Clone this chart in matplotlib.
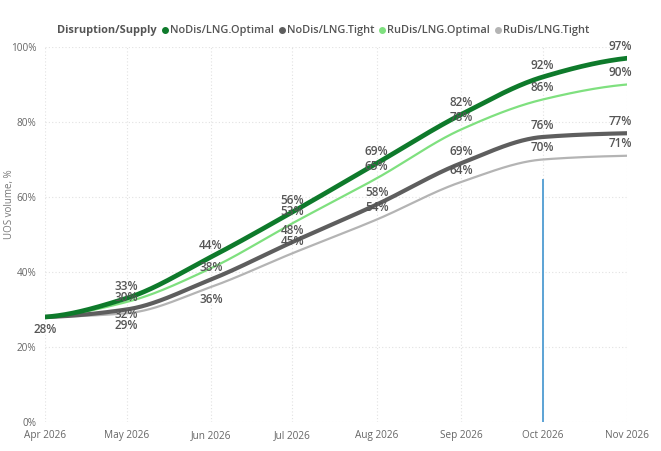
import numpy as np
import matplotlib
matplotlib.use("Agg")
import matplotlib.pyplot as plt
import matplotlib.dates as mdates
from datetime import datetime

plt.rcParams['font.family'] = ['Open Sans', 'DejaVu Sans']

months = ["2026-04-01", "2026-05-01", "2026-06-01", "2026-07-01",
          "2026-08-01", "2026-09-01", "2026-10-01", "2026-11-01"]
tick_labels = ["Apr 2026", "May 2026", "Jun 2026", "Jul 2026",
               "Aug 2026", "Sep 2026", "Oct 2026", "Nov 2026"]
series_names = ["NoDis/LNG.Optimal", "NoDis/LNG.Tight",
                "RuDis/LNG.Optimal", "RuDis/LNG.Tight"]
nodis_optimal = [28, 33, 44, 56, 69, 82, 92, 97]
nodis_tight = [28, 30, 38, 48, 58, 69, 76, 77]
rudis_optimal = [28, 32, 41, 53, 65, 78, 86, 90]
rudis_tight = [28, 29, 36, 45, 54, 64, 70, 71]
marker_date = "2026-10-01"
marker_top = 64.5

colors = ["#0E7A2B", "#5E5E5E", "#7FE07F", "#B4B4B4"]
widths = [3.4, 3.0, 1.6, 1.6]
values = [nodis_optimal, nodis_tight, rudis_optimal, rudis_tight]
# label placement: 'a' above, 'b' below, '' hidden
placement = [
    ['', 'a', 'a', 'a', 'a', 'a', 'a', 'a'],
    ['', 'a', 'a', 'a', 'a', 'a', 'a', 'a'],
    ['', 'b', '', 'a', 'a', 'a', 'a', 'a'],
    ['b', 'b', 'b', 'a', 'a', 'a', 'a', 'a'],
]

dates = [datetime.strptime(m, "%Y-%m-%d") for m in months]
xnum = mdates.date2num(dates)


def pchip(x, y, xs):
    x = np.asarray(x, float); y = np.asarray(y, float)
    h = np.diff(x); d = np.diff(y) / h
    n = len(x); m = np.zeros(n)
    for k in range(1, n - 1):
        if d[k - 1] * d[k] <= 0:
            m[k] = 0
        else:
            w1 = 2 * h[k] + h[k - 1]; w2 = h[k] + 2 * h[k - 1]
            m[k] = (w1 + w2) / (w1 / d[k - 1] + w2 / d[k])
    m[0] = d[0] * 0.3
    m[-1] = d[-1] * 0.5
    out = np.empty_like(xs)
    for i, xv in enumerate(xs):
        k = min(max(np.searchsorted(x, xv) - 1, 0), n - 2)
        t = (xv - x[k]) / h[k]
        h00 = 2 * t**3 - 3 * t**2 + 1; h10 = t**3 - 2 * t**2 + t
        h01 = -2 * t**3 + 3 * t**2; h11 = t**3 - t**2
        out[i] = h00 * y[k] + h10 * h[k] * m[k] + h01 * y[k + 1] + h11 * h[k] * m[k + 1]
    return out


fig = plt.figure(figsize=(6.61, 4.51), dpi=100)
ax = fig.add_axes([45 / 661, 1 - 422 / 451, (627 - 45) / 661, (422 - 47) / 451])

xs = np.linspace(xnum[0], xnum[-1], 400)
zorders = {0: 4.5, 1: 4.0, 2: 3.5, 3: 3.0}
for i in [3, 2, 1, 0]:
    ys = pchip(xnum, values[i], xs)
    ax.plot(xs, ys, color=colors[i], lw=widths[i], solid_capstyle='round', zorder=zorders[i])

lab_color = "#555555"
for i in range(4):
    for j, (xv, yv) in enumerate(zip(xnum, values[i])):
        p = placement[i][j]
        if not p:
            continue
        dy = 8.5 if p == 'a' else -9
        dx = -5 if j == len(xnum) - 1 else 0
        ax.annotate(f"{yv}%", (xv, yv), xytext=(dx, dy), textcoords='offset points',
                    ha='center', va='center', fontsize=8.5, fontweight='semibold',
                    color=lab_color, zorder=6)

mx = mdates.date2num(datetime.strptime(marker_date, "%Y-%m-%d"))
ax.plot([mx, mx], [0, marker_top], color="#5BA3D5", lw=1.4, zorder=2)

ax.set_xlim(xnum[0], xnum[-1])
ax.set_ylim(0, 100)
ax.set_xticks(xnum)
ax.set_xticklabels(tick_labels)
ax.set_yticks([0, 20, 40, 60, 80, 100])
ax.set_yticklabels([f"{v}%" for v in [0, 20, 40, 60, 80, 100]])
ax.tick_params(axis='both', length=0, labelsize=7.2, colors="#666666")
ax.tick_params(axis='x', pad=6)
ax.tick_params(axis='y', pad=6)
ax.grid(True, color="#E2E2E2", lw=0.8, ls=(0, (1, 2)))
ax.set_axisbelow(True)
for s in ax.spines.values():
    s.set_visible(False)
ax.set_ylabel("UOS volume, %", fontsize=7, color="#777777")
ax.yaxis.set_label_coords(-0.052, 0.58)

# legend (manual)
fig.canvas.draw()
r = fig.canvas.get_renderer()
y_leg = 1 - 30 / 451
x = 57 / 661
fs = 7.9
t = fig.text(x, y_leg, "Disruption/Supply", fontsize=fs, fontweight='bold',
             color="#555555", va='center', ha='left')
bb = t.get_window_extent(renderer=r)
x = bb.x1 / 661 + 8 / 661
for name, c in zip(series_names, colors):
    fig.lines.append(matplotlib.lines.Line2D([x], [y_leg], marker='o', ms=4.0, color=c,
                                             transform=fig.transFigure))
    tt = fig.text(x + 5 / 661, y_leg, name, fontsize=fs, fontweight='semibold',
                  color="#555555", va='center', ha='left')
    bb = tt.get_window_extent(renderer=r)
    x = bb.x1 / 661 + 8 / 661

fig.savefig("out.png", dpi=100)
